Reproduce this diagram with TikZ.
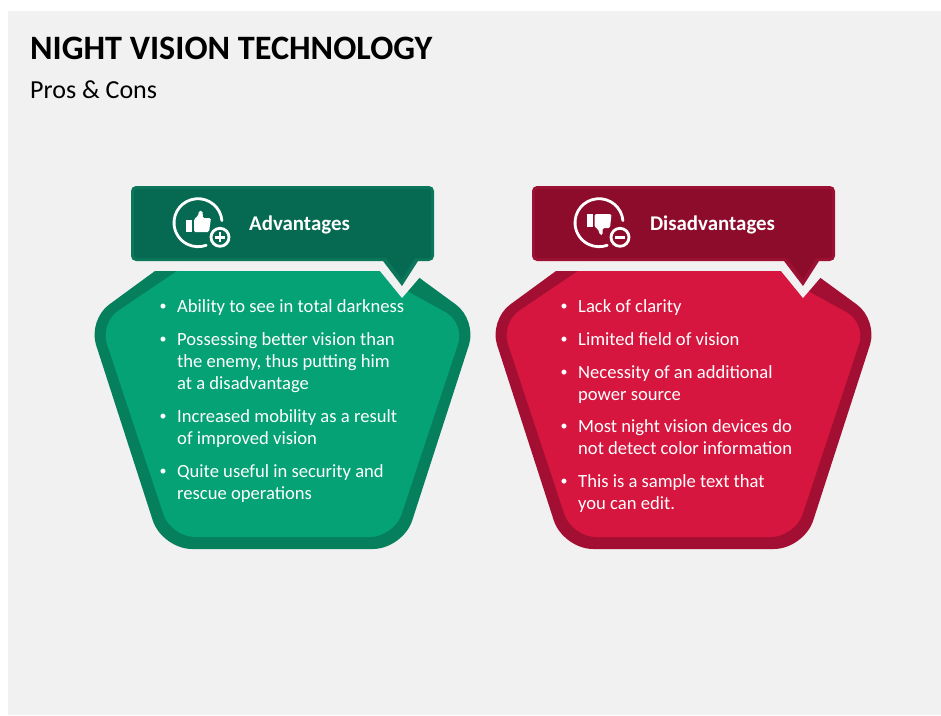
\documentclass[tikz,border=0pt]{standalone}
\usepackage{fontspec}
\setmainfont{Carlito}
\definecolor{bg}{HTML}{F1F1F1}
\definecolor{gLight}{HTML}{05A275}
\definecolor{gBand}{HTML}{067F5C}
\definecolor{gHead}{HTML}{066A52}
\definecolor{gEdge}{HTML}{0B7659}
\definecolor{rLight}{HTML}{D6163F}
\definecolor{rBand}{HTML}{A30F33}
\definecolor{rHead}{HTML}{8E0C2B}
\definecolor{rEdge}{HTML}{9C1133}
\tikzset{
  item/.style={anchor=north west,inner sep=0pt,text=white,align=left,font=\fontsize{18.6}{22.4}\selectfont},
  bulletmark/.style={anchor=center,inner sep=0pt,text=white,font=\fontsize{14}{20}\selectfont},
  headtext/.style={anchor=center,inner sep=0pt,text=white,font=\fontsize{20.9}{24}\selectfont\bfseries},
  iconline/.style={draw=white,line width=2.8pt,line cap=round},
}
% #1 band colour, #2 light colour, #3 header colour, #4 header edge
\newcommand{\panel}[4]{%
  \fill[#1] (155,271) [rounded corners=26] -- (88,320) [rounded corners=30] -- (162,549) -- (403,549) [rounded corners=26] -- (477,320) [sharp corners] -- (410,271) -- cycle;
  \fill[#2] (177,271) [rounded corners=22] -- (100,323) [rounded corners=24] -- (171,537) -- (394,537) [rounded corners=22] -- (465,323) [sharp corners] -- (407,291) -- (402,298) -- (380,271) -- cycle;
  \fill[bg] (380,271) -- (402,298) -- (420,277) -- (420,271) -- cycle;
  \fill[#4] (131,191) [rounded corners=5] -- (131,261) [sharp corners] -- (383,261) -- (402,286) -- (418,261) [rounded corners=5] -- (434,261) -- (434,186) -- (131,186) [sharp corners] -- cycle;
  \fill[#3] (134,191) [rounded corners=3] -- (134,258) [sharp corners] -- (386,258) -- (402,279) -- (415,258) [rounded corners=3] -- (431,258) -- (431,189) -- (134,189) [sharp corners] -- cycle;
}
\begin{document}
\begin{tikzpicture}[x=1pt,y=-1pt]
\useasboundingbox (0,0) rectangle (941,715);
\fill[white] (0,0) rectangle (941,715);
\fill[bg] (8,11) rectangle (941,715);
\node[anchor=base west,inner sep=0pt,font=\fontsize{34.2}{38}\selectfont\bfseries] (title) at (30,59.5) {NIGHT VISION TECHNOLOGY};
\node[anchor=base west,inner sep=0pt,font=\fontsize{26}{30}\selectfont] (subtitle) at (30,98) {Pros \& Cons};

% ---- green panel
\panel{gBand}{gLight}{gHead}{gEdge}
\node[headtext] (advtitle) at (299.5,224.5) {Advantages};
\draw[iconline] (198,222.7) ++(-5:24) arc[start angle=-5,end angle=-290,radius=24];
\fill[white] (186,220) rectangle (191.7,232);
\fill[white,rounded corners=1.5] (194,232) -- (194,219) -- (198,216) -- (199,211) -- (202,210.5) -- (203,214) -- (202.5,218) -- (211,218) -- (209,232) -- cycle;
\draw[white,line width=2.8pt,fill=gHead] (220,237.3) circle[radius=9];
\draw[white,line width=2.8pt] (215,237.3) -- (225,237.3) (220,232.3) -- (220,242.3);
\foreach \n/\yy in {a/307.5,b/340.5,c/417.5,d/472.5}{\node[bulletmark] (bullet\n) at (163,\yy) {•};}
\node[item] (a1) at (177,299) {Ability to see in total darkness};
\node[item] (a2) at (177,332) {Possessing better vision than\\the enemy, thus putting him\\at a disadvantage};
\node[item] (a3) at (177,409) {Increased mobility as a result\\of improved vision};
\node[item] (a4) at (177,464) {Quite useful in security and\\rescue operations};

% ---- red panel
\begin{scope}[xshift=401pt]
\panel{rBand}{rLight}{rHead}{rEdge}
\node[headtext] (distitle) at (311.5,224.5) {Disadvantages};
\draw[iconline] (198,222.7) ++(-5:24) arc[start angle=-5,end angle=-290,radius=24];
\fill[white] (185.7,214) rectangle (191.5,226.5);
\fill[white,rounded corners=1.5] (193.5,214) -- (193.5,227) -- (197,229) -- (199,235) -- (201.5,235) -- (201.5,228) -- (209,228) -- (210.5,214) -- cycle;
\draw[white,line width=2.8pt,fill=rHead] (219,237.3) circle[radius=9];
\draw[white,line width=2.8pt] (214,237.3) -- (224,237.3);
\foreach \n/\yy in {a/307.5,b/340.5,c/373.5,d/427.5,e/482.5}{\node[bulletmark] (rbullet\n) at (163,\yy) {•};}
\node[item] (r1) at (177,299) {Lack of clarity};
\node[item] (r2) at (177,332) {Limited field of vision};
\node[item] (r3) at (177,365) {Necessity of an additional\\power source};
\node[item] (r4) at (177,419) {Most night vision devices do\\not detect color information};
\node[item] (r5) at (177,474) {This is a sample text that\\you can edit.};
\end{scope}
\end{tikzpicture}
\end{document}
